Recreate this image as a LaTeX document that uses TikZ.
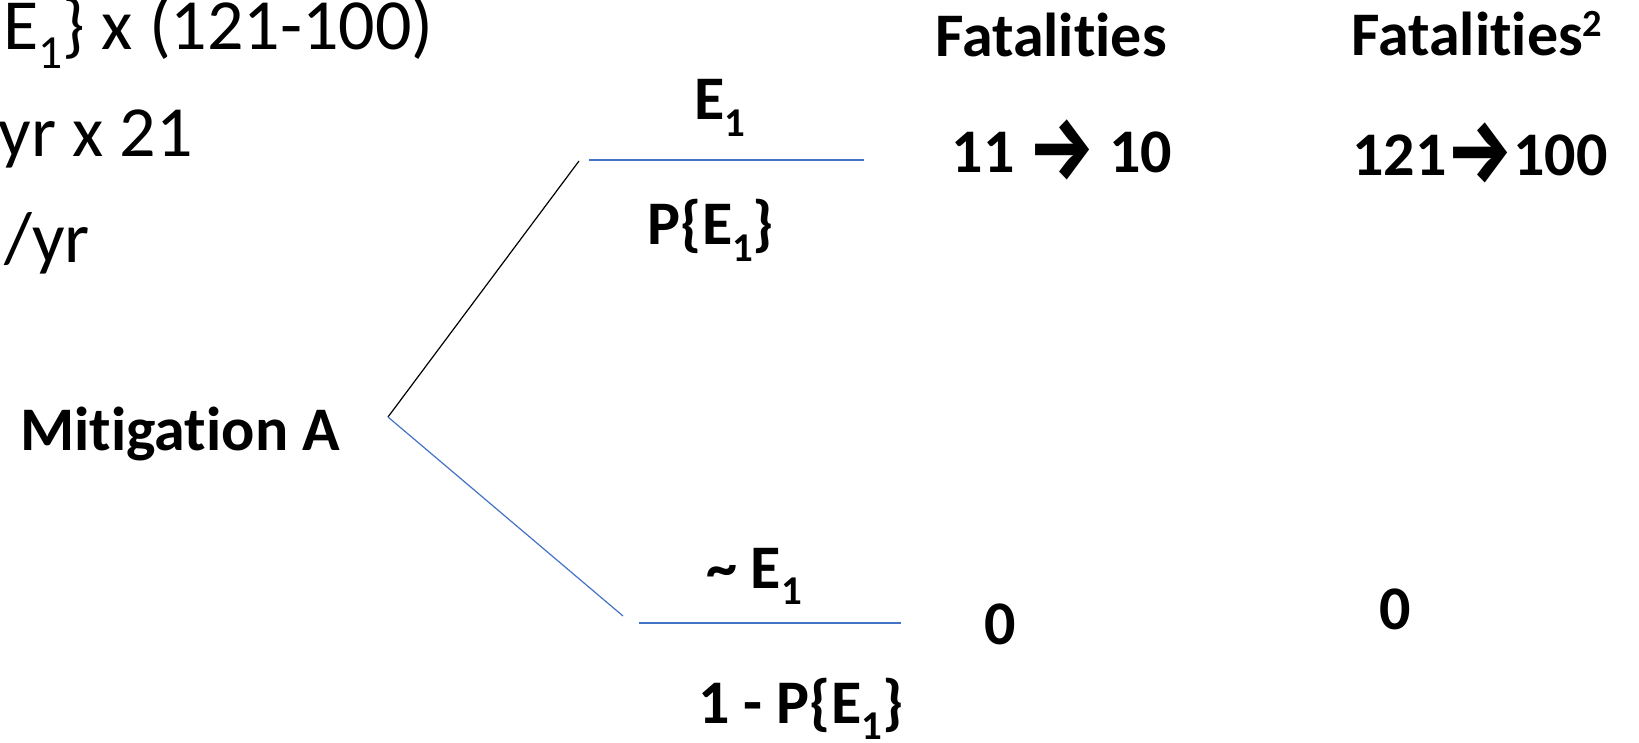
\documentclass[tikz,border=0pt]{standalone}
\usepackage{fontspec}
\usepackage{graphicx}
\setmainfont{Carlito}[Ligatures={NoCommon}]
\newfontfamily\arrowfont{Fira Sans}
\newcommand\lsub[1]{\raisebox{-0.26em}{\scalebox{0.66}{#1}}}
\newcommand\hsup[1]{\raisebox{0.32em}{\scalebox{0.62}{#1}}}
\newcommand\rarr{\raisebox{-0.1em}{\scalebox{1.2}[1.45]{\arrowfont\bfseries →}}}
\definecolor{branchblue}{RGB}{68,114,196}
\begin{document}
\begin{tikzpicture}[x=1pt,y=-1pt,
  lbl/.style={inner sep=0pt, anchor=base, font=\fontsize{62}{74}\selectfont\bfseries},
  big/.style={inner sep=0pt, anchor=base east, font=\fontsize{72}{86}\selectfont},
  blueline/.style={draw=branchblue, line width=1.2pt},
  blackline/.style={draw=black, line width=1.2pt}]
\useasboundingbox (0,0) rectangle (1639,743);
\fill[white] (0,0) rectangle (1639,743);

% top-left (clipped) text
\node[big] (f1) at (434,50) {E\lsub{1}\} x (121-100)};
\node[big] (f2) at (193,157) {yr x 21};
\node[big] (f3) at (90,263) {/yr};

% tree
\node[lbl] (mit) at (180,450) {Mitigation A};
\coordinate (root) at (388,417);
\coordinate (upend) at (579,161);
\coordinate (loend) at (623,616);
\coordinate (t1) at (589,160);
\coordinate (t2) at (864,160);
\coordinate (b1) at (639,623);
\coordinate (b2) at (901,623);
\draw[blackline] (root) -- (upend);
\draw[blueline] (root) -- (loend);
\draw[blueline] (t1) -- (t2);
\draw[blueline] (b1) -- (b2);

\node[lbl] (e1) at (720,120) {E\lsub{1}};
\node[lbl] (pe1) at (711,245) {P\{E\lsub{1}\}};
\node[lbl] (ne1) at (754,588) {\char`\~{} E\lsub{1}};
\node[lbl] (qe1) at (801,723) {1 - P\{E\lsub{1}\}};

% outcome columns
\node[lbl] (fat) at (1051,57) {Fatalities};
\node[lbl] (fat2) at (1477,56) {Fatalities\hsup{2}};
\node[lbl] (v1) at (1062,173) {11 \rarr{} 10};
\node[lbl] (v2) at (1480,176) {121\rarr{}100};
\node[lbl] (z1) at (1000,644) {0};
\node[lbl] (z2) at (1395,629) {0};
\end{tikzpicture}
\end{document}
